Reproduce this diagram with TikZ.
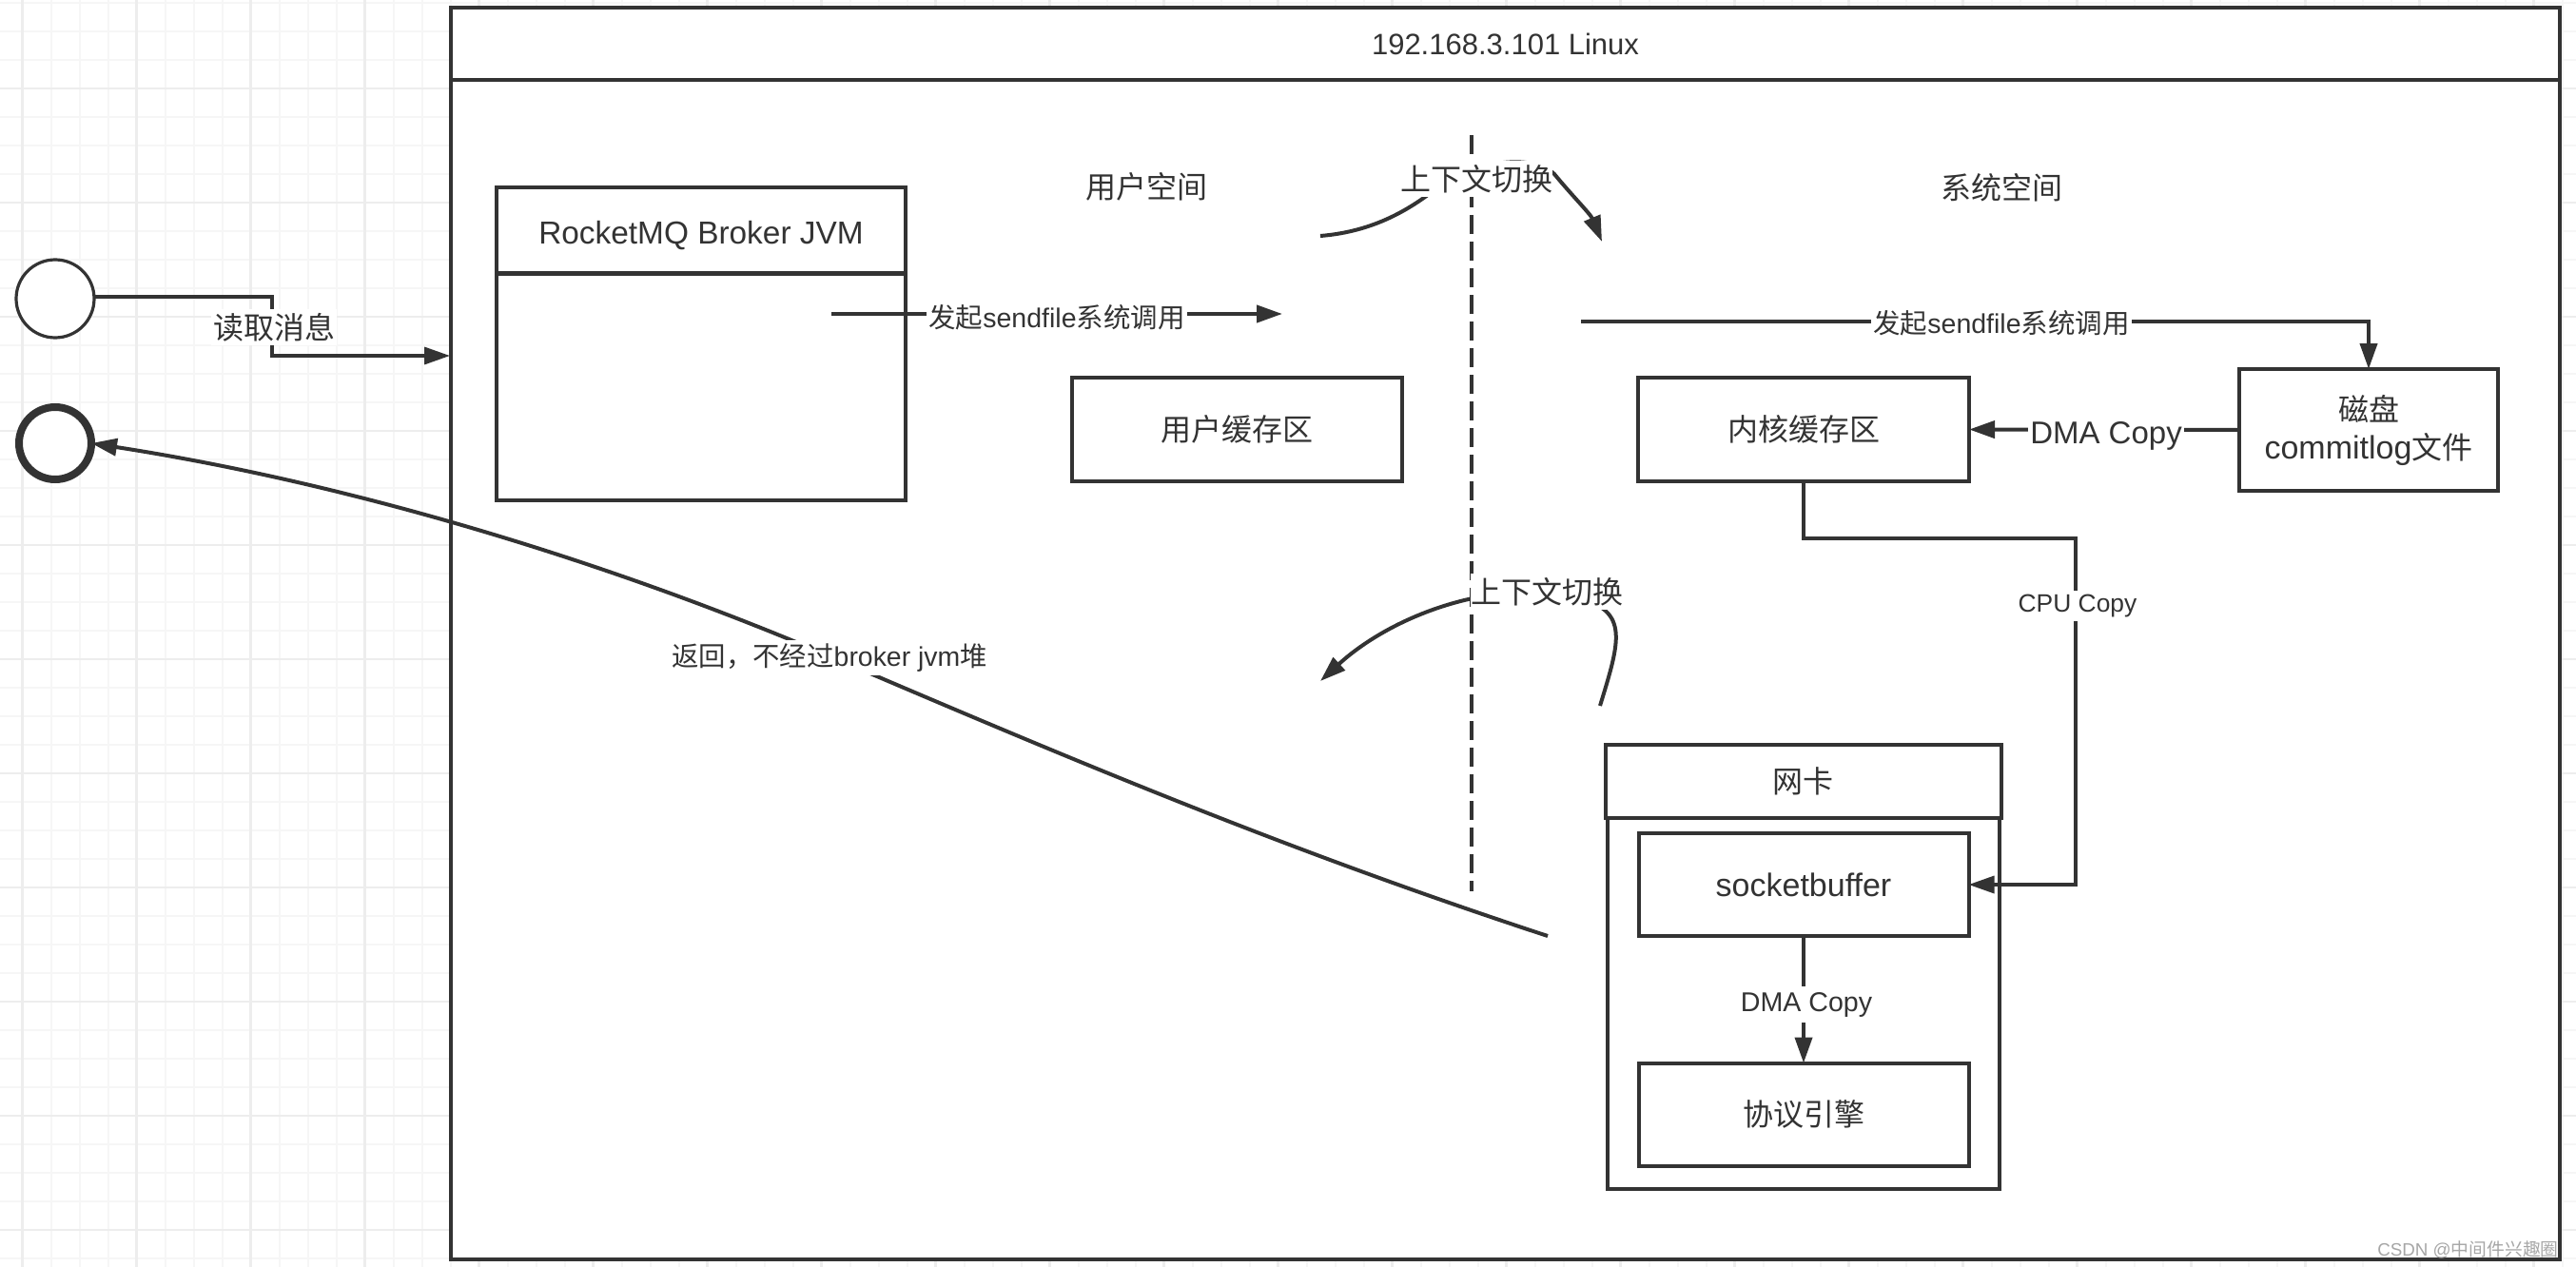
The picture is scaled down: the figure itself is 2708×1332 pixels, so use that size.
\documentclass[tikz,border=0pt]{standalone}
\usepackage{fontspec}
\setmainfont{Liberation Sans}
\newfontfamily\cjk{Noto Sans CJK SC}
\usetikzlibrary{arrows.meta}
\newcommand{\hz}[1]{{\cjk #1}}
\newcommand{\fz}[1]{\fontsize{#1}{#1}\selectfont}
\definecolor{ink}{HTML}{333333}
\definecolor{gridminor}{HTML}{F6F6F6}
\definecolor{gridmajor}{HTML}{EDEDED}
\tikzset{
  sz/.style 2 args={minimum width=#1*0.5pt,minimum height=#2*0.5pt},
  box/.style={draw=ink,fill=white,line width=2pt,inner sep=0pt,outer sep=0pt,text=ink,align=center,font=\fz{16}},
  thinbox/.style={box,line width=1.6pt},
  txt/.style={text=ink,inner sep=0pt,outer sep=0pt,align=center,font=\fz{16}},
  lab/.style={txt,fill=white,inner xsep=1pt,inner ysep=2pt},
  conn/.style={draw=ink,line width=2pt},
  tip/.style={-{Triangle[length=13.5pt,width=9pt]}}
}
\begin{document}
\begin{tikzpicture}[x=0.5pt,y=-0.5pt]
\useasboundingbox (0,0) rectangle (2708,1332);
\fill[white] (0,0) rectangle (2708,1332);
\begin{scope}
\clip (0,0) rectangle (2708,1332);
\foreach \k in {0,...,90} {
  \draw[gridminor,line width=1pt] ({-6.4+30*\k},0) -- ({-6.4+30*\k},1332);
}
\foreach \k in {0,...,44} {
  \draw[gridminor,line width=1pt] (0,{3+30*\k}) -- (2708,{3+30*\k});
}
\foreach \k in {0,...,22} {
  \draw[gridmajor,line width=1.2pt] ({23.6+120*\k},0) -- ({23.6+120*\k},1332);
}
\foreach \k in {0,...,11} {
  \draw[gridmajor,line width=1.2pt] (0,{93+120*\k}) -- (2708,{93+120*\k});
}
\end{scope}

% main swimlane
\node[box,sz={2217}{1315.5}] (main) at (1582.5,665.75) {};
\node[box,sz={2217}{76},font=\fz{15.5},text height=12pt,text depth=0pt] (maintitle) at (1582.5,46) {192.168.3.101 Linux};

% actors
\node[circle,draw=ink,fill=white,line width=1.6pt,minimum size=41pt,inner sep=0pt,outer sep=0pt] (a1) at (58,314) {};
\node[circle,draw=ink,fill=white,line width=4pt,minimum size=38pt,inner sep=0pt,outer sep=0pt] (a2) at (58,466) {};

% broker
\node[box,sz={430}{328.5}] (broker) at (737,362) {};
\node[box,sz={430}{90},font=\fz{16.7},text height=14pt,text depth=0pt] (brokerhead) at (737,242.5) {RocketMQ Broker JVM};

% buffers
\node[box,sz={347}{109}] (ubuf) at (1300.5,451.5) {\hz{用户缓存区}};
\node[box,sz={348}{109}] (kbuf) at (1896,451.5) {\hz{内核缓存区}};
\node[box,sz={272}{128}] (disk) at (2490,452) {\hz{磁盘}\\[4pt]{\fz{17}commitlog}\hz{文件}};

% network card
\node[thinbox,sz={412}{390}] (nic) at (1896,1055) {};
\node[box,sz={416}{77}] (nichead) at (1895.5,821.5) {\hz{网卡}};
\node[box,sz={347}{108},font=\fz{17}] (sock) at (1896,930) {socketbuffer};
\node[box,sz={347}{108.5}] (proto) at (1896,1171.75) {\hz{协议引擎}};

% space titles
\node[txt] (uspace) at (1205,196) {\hz{用户空间}};
\node[txt] (sspace) at (2104,197) {\hz{系统空间}};

% divider
\coordinate (divtop) at (1547,142);
\coordinate (divbot) at (1547,937);
\draw[ink,line width=1.7pt,dash pattern=on 10pt off 4pt] (divtop) -- (divbot);

% read message
\coordinate (rd1) at (286,312);
\coordinate (rd2) at (286,374);
\coordinate (rd3) at (473,374);
\draw[conn,line width=1.7pt,tip] (a1.east |- rd1) -- (rd1) -- (rd2) -- (rd3);
\node[lab,font=\fz{16}] (rdlab) at (288,344) {\hz{读取消息}};

% sendfile user side
\coordinate (sf1) at (874,330);
\coordinate (sf2) at (1348,330);
\draw[conn,tip] (sf1) -- (sf2);
\node[lab,font=\fz{14.25}] (sflab1) at (1111,333.5) {\hz{发起}sendfile\hz{系统调用}};

% sendfile system side
\coordinate (sf3) at (1662,338);
\coordinate (sf4) at (2490,338);
\draw[conn,tip] (sf3) -- (sf4) -- (disk.north);
\node[lab,font=\fz{14.25}] (sflab2) at (2104,340) {\hz{发起}sendfile\hz{系统调用}};

% context switch top
\coordinate (cs1) at (1388,248);
\coordinate (cs2) at (1684,254);
\draw[conn,tip] (cs1) .. controls (1450,243) and (1490,215) .. (1520,190)
  .. controls (1550,172) and (1610,160) .. (1634,183)
  .. controls (1652,205) and (1672,225) .. (cs2);
\node[lab,inner xsep=0pt] (cslab1) at (1552,188) {\hz{上下文切换}};

% context switch bottom
\coordinate (cs3) at (1682,742);
\coordinate (cs4) at (1388,716);
\draw[conn,tip] (cs3) .. controls (1704,670) and (1714,640) .. (1650,626)
  .. controls (1560,610) and (1460,650) .. (cs4);
\node[lab,inner xsep=0pt] (cslab2) at (1626,622) {\hz{上下文切换}};

% DMA disk to kernel
\draw[conn,tip] (disk.west) -- (kbuf.east);
\node[lab,font=\fz{16.5}] (dmalab1) at (2214,458) {DMA Copy};

% CPU copy
\coordinate (cp1) at (1896,566);
\coordinate (cp2) at (2182,566);
\coordinate (cp3) at (2182,930);
\draw[conn,line width=1.7pt,tip] (kbuf.south) -- (cp1) -- (cp2) -- (cp3) -- (sock.east);
\node[lab,font=\fz{13.2}] (cpulab) at (2184,637) {CPU Copy};

% DMA socket to protocol
\draw[conn,tip] (sock.south) -- (proto.north);
\node[lab,font=\fz{14.3},inner ysep=3pt] (dmalab2) at (1899,1056) {DMA Copy};

% return
\coordinate (ret1) at (1627,984);
\coordinate (ret2) at (875,691);
\draw[conn,tip] (ret1) .. controls (1350,893) and (1130,800) .. (ret2)
  .. controls (650,595) and (380,510) .. (a2.east);
\node[lab,font=\fz{14.2}] (retlab) at (872,691.5) {\hz{返回，不经过}broker jvm\hz{堆}};

% watermark
\node[text=black!35,inner sep=0pt,font=\fz{9.4},anchor=east] (wm) at (2690,1314) {CSDN @\hz{中间件兴趣圈}};
\end{tikzpicture}
\end{document}
